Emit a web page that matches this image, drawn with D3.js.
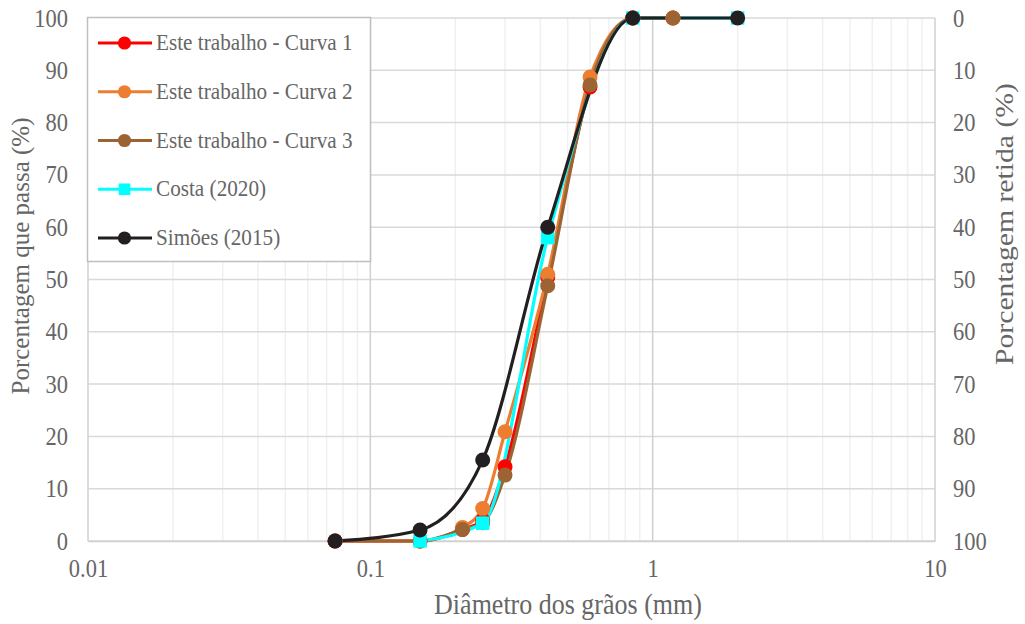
<!DOCTYPE html>
<html>
<head>
<meta charset="utf-8">
<script src="https://cdn.jsdelivr.net/npm/d3@7"></script>
<style>
  html, body { margin: 0; padding: 0; background: #fff; }
</style>
</head>
<body>
<svg id="chart" width="1025" height="624"></svg>
<script>
// Granulometric curves: percentage passing vs grain diameter (mm)
const curva1Diam = [0.075, 0.15, 0.212, 0.25, 0.3, 0.425, 0.6, 0.85, 1.18];
const curva1Pass = [0, 0, 2.2, 4, 14.2, 50.4, 86.8, 100, 100];

const curva2Diam = [0.075, 0.15, 0.212, 0.25, 0.3, 0.425, 0.6, 0.85, 1.18];
const curva2Pass = [0, 0, 2.6, 6.2, 20.9, 51, 88.7, 100, 100];

const curva3Diam = [0.075, 0.15, 0.212, 0.25, 0.3, 0.425, 0.6, 0.85, 1.18];
const curva3Pass = [0, 0, 2.2, 3.5, 12.6, 48.8, 87.2, 100, 100];

const costaDiam = [0.15, 0.25, 0.425, 0.85, 2.0];
const costaPass = [0, 3.4, 58, 100, 100];

const simoesDiam = [0.075, 0.15, 0.25, 0.425, 0.85, 2.0];
const simoesPass = [0, 2.1, 15.5, 60, 100, 100];

const seriesNames = ["Este trabalho - Curva 1", "Este trabalho - Curva 2", "Este trabalho - Curva 3", "Costa (2020)", "Simões (2015)"];
const seriesColors = ["#ff0000", "#ed7d31", "#9c6333", "#00ffff", "#231f20"];
const seriesSymbols = ["circle", "circle", "circle", "square", "circle"];

const xTicks = [0.01, 0.1, 1, 10];
const xTickLabels = ["0.01", "0.1", "1", "10"];
const yTicks = [0, 10, 20, 30, 40, 50, 60, 70, 80, 90, 100];

const xTitle = "Diâmetro dos grãos (mm)";
const yTitleLeft = "Porcentagem que passa  (%)";
const yTitleRight = "Porcentagem retida (%)";

const series = [
  { d: curva1Diam, p: curva1Pass },
  { d: curva2Diam, p: curva2Pass },
  { d: curva3Diam, p: curva3Pass },
  { d: costaDiam, p: costaPass },
  { d: simoesDiam, p: simoesPass }
].map((s, i) => ({
  name: seriesNames[i], color: seriesColors[i], symbol: seriesSymbols[i],
  points: s.d.map((d, j) => ({ d, p: s.p[j] }))
}));

const svg = d3.select("#chart");
const plotLeft = 88, plotRight = 935, plotTop = 18, plotBottom = 541;
const textColor = "#666666";
const serif = "Liberation Serif, Times New Roman, serif";
const tall = 1.12; // glyphs are drawn slightly taller than wide

// stretch text vertically around its own baseline
function stretchY(sel) {
  sel.each(function () {
    const t = d3.select(this);
    const yv = +(t.attr("y") || 0);
    t.attr("y", yv / tall).attr("transform", `scale(1,${tall})`);
  });
}

const x = d3.scaleLog().domain([0.01, 10]).range([plotLeft, plotRight]);
const y = d3.scaleLinear().domain([0, 100]).range([plotBottom, plotTop]);
const yRet = d3.scaleLinear().domain([100, 0]).range([plotBottom, plotTop]);

// minor vertical grid
const minor = [];
[0.01, 0.1, 1].forEach(dec => { for (let k = 2; k <= 9; k++) minor.push(dec * k); });
svg.append("g").selectAll("line").data(minor).join("line")
  .attr("x1", d => x(d)).attr("x2", d => x(d))
  .attr("y1", plotTop).attr("y2", plotBottom)
  .attr("stroke", "#f0f0f0").attr("stroke-width", 1.5);

// horizontal grid
svg.append("g").selectAll("line").data(yTicks).join("line")
  .attr("x1", plotLeft).attr("x2", plotRight)
  .attr("y1", d => y(d)).attr("y2", d => y(d))
  .attr("stroke", "#d9d9d9").attr("stroke-width", 1.5);

// major vertical grid
svg.append("g").selectAll("line").data(xTicks).join("line")
  .attr("x1", d => x(d)).attr("x2", d => x(d))
  .attr("y1", plotTop).attr("y2", plotBottom)
  .attr("stroke", "#d0d0d0").attr("stroke-width", 1.5);

function styleAxis(g) {
  g.attr("font-family", serif).attr("font-size", 22.5);
  g.selectAll("text").attr("fill", textColor).call(stretchY);
}

// left axis
const gl = svg.append("g").attr("transform", `translate(${plotLeft},0)`)
  .call(d3.axisLeft(y).tickValues(yTicks).tickSize(0).tickPadding(20));
gl.select(".domain").remove();
styleAxis(gl);

// right axis (retained)
const gr = svg.append("g").attr("transform", `translate(${plotRight},0)`)
  .call(d3.axisRight(yRet).tickValues(yTicks).tickSize(0).tickPadding(18));
gr.select(".domain").remove();
styleAxis(gr);

// bottom axis
const gb = svg.append("g").attr("transform", `translate(0,${plotBottom})`)
  .call(d3.axisBottom(x).tickValues(xTicks).tickFormat((d, i) => xTickLabels[i]).tickSize(0).tickPadding(18));
gb.select(".domain").attr("stroke", "#d0d0d0").attr("stroke-width", 1.5);
styleAxis(gb);

// axis titles
svg.append("g").attr("transform", "translate(568,614)")
  .append("text").attr("text-anchor", "middle").attr("fill", textColor)
  .attr("font-family", serif).attr("font-size", 26).text(xTitle).call(stretchY);
svg.append("text").attr("transform", "translate(29,256) rotate(-90)")
  .attr("text-anchor", "middle").attr("fill", textColor).attr("font-family", serif)
  .attr("font-size", 25.5).attr("textLength", 277).attr("lengthAdjust", "spacingAndGlyphs")
  .text(yTitleLeft);
svg.append("text").attr("transform", "translate(1013,224) rotate(-90)")
  .attr("text-anchor", "middle").attr("fill", textColor).attr("font-family", serif)
  .attr("font-size", 25.5).attr("textLength", 282).attr("lengthAdjust", "spacingAndGlyphs")
  .text(yTitleRight);

// smoothed curves
const line = d3.line().x(d => x(d.d)).y(d => y(d.p)).curve(d3.curveMonotoneX);
const plot = svg.append("g");
series.forEach(s => {
  plot.append("path").datum(s.points).attr("d", line)
    .attr("fill", "none").attr("stroke", s.color).attr("stroke-width", 3.2)
    .attr("stroke-linejoin", "round");
});
function drawMarker(g, sym, cx, cy, color, size) {
  if (sym === "square") {
    g.append("rect").attr("x", cx - size).attr("y", cy - size)
      .attr("width", size * 2).attr("height", size * 2).attr("fill", color);
  } else {
    g.append("circle").attr("cx", cx).attr("cy", cy).attr("r", size + 0.8).attr("fill", color);
  }
}
series.forEach(s => {
  const g = plot.append("g");
  s.points.forEach(pt => drawMarker(g, s.symbol, x(pt.d), y(pt.p), s.color, 6.7));
});

// legend
const lg = svg.append("g");
lg.append("rect").attr("x", 87.5).attr("y", 17.5).attr("width", 283).attr("height", 244)
  .attr("fill", "#fff").attr("stroke", "#bfbfbf").attr("stroke-width", 1.5);
series.forEach((s, i) => {
  const cy = 43 + i * 48.75;
  lg.append("line").attr("x1", 98).attr("x2", 152).attr("y1", cy).attr("y2", cy)
    .attr("stroke", s.color).attr("stroke-width", 3.2);
  drawMarker(lg, s.symbol, 124.5, cy, s.color, 5.8);
  lg.append("g").attr("transform", `translate(156,${cy + 7})`)
    .append("text").attr("fill", textColor)
    .attr("font-family", serif).attr("font-size", 21.2).text(s.name).call(stretchY);
});
</script>
</body>
</html>
